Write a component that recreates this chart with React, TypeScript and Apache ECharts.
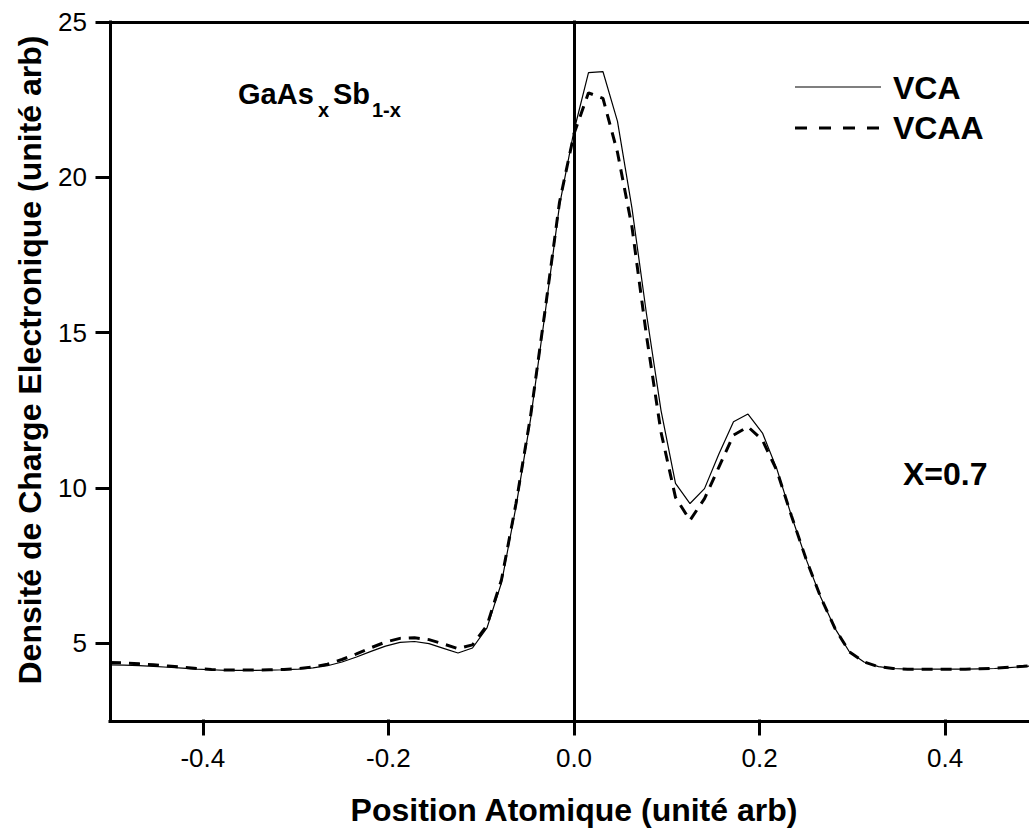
import React, { useEffect, useRef } from "react";
import * as echarts from "echarts";

const positions = [
  -0.5, -0.484375, -0.46875, -0.453125, -0.4375, -0.421875, -0.40625, -0.390625,
  -0.375, -0.359375, -0.34375, -0.328125, -0.3125, -0.296875, -0.28125, -0.265625,
  -0.25, -0.234375, -0.21875, -0.203125, -0.1875, -0.171875, -0.15625, -0.140625,
  -0.125, -0.109375, -0.09375, -0.078125, -0.0625, -0.046875, -0.03125, -0.015625,
  0, 0.015625, 0.03125, 0.046875, 0.0625, 0.078125, 0.09375, 0.109375,
  0.125, 0.140625, 0.15625, 0.171875, 0.1875, 0.203125, 0.21875, 0.234375,
  0.25, 0.265625, 0.28125, 0.296875, 0.3125, 0.328125, 0.34375, 0.359375,
  0.375, 0.390625, 0.40625, 0.421875, 0.4375, 0.453125, 0.46875, 0.484375, 0.5,
];

const vca = [
  4.31, 4.3, 4.28, 4.26, 4.23, 4.2, 4.17, 4.15,
  4.13, 4.13, 4.13, 4.14, 4.15, 4.17, 4.21, 4.28,
  4.4, 4.56, 4.74, 4.91, 5.03, 5.06, 4.99, 4.84,
  4.69, 4.85, 5.5, 6.95, 9.4, 12.2, 15.6, 19.1,
  21.5, 23.37, 23.4, 21.8, 19.0, 15.6, 12.5, 10.15,
  9.5, 9.98, 11.1, 12.13, 12.38, 11.77, 10.6, 9.1,
  7.72, 6.5, 5.48, 4.72, 4.4, 4.25, 4.19, 4.17,
  4.17, 4.17, 4.17, 4.17, 4.18, 4.19, 4.22, 4.25, 4.29,
];

const vcaa = [
  4.38, 4.37, 4.34, 4.31, 4.27, 4.23, 4.19, 4.16,
  4.14, 4.14, 4.14, 4.15, 4.16, 4.19, 4.24, 4.33,
  4.48, 4.66, 4.86, 5.04, 5.16, 5.18, 5.12, 4.98,
  4.83, 4.95, 5.58, 7.05, 9.5, 12.3, 15.7, 19.2,
  21.4, 22.72, 22.54, 20.8, 18.4, 14.9, 11.8, 9.7,
  8.96, 9.66, 10.68, 11.7, 11.97, 11.54, 10.55, 9.1,
  7.72, 6.5, 5.48, 4.72, 4.4, 4.25, 4.19, 4.17,
  4.17, 4.17, 4.17, 4.17, 4.18, 4.2, 4.23, 4.26, 4.31,
];

const xTicks = [-0.4, -0.2, 0.0, 0.2, 0.4];
const yTicks = [5, 10, 15, 20, 25];

// frame of the plot (data units)
const X_MIN = -0.5;
const X_MAX = 0.5;
const Y_MIN = 2.5;
const Y_MAX = 25;
// axis ranges extended by the tick length so that outward ticks sit inside the grid
const X_AXIS_MIN = -0.514;
const Y_AXIS_MIN = 2.082;

const FONT = "'Liberation Sans', Arial, sans-serif";

export default function App() {
  const ref = useRef<HTMLDivElement>(null);

  useEffect(() => {
    if (!ref.current) return;
    const chart = echarts.init(ref.current, null, { renderer: "svg" });
    const toPairs = (ys: number[]) => positions.map((x, i) => [x, ys[i]]);

    const seg = (a: number[], b: number[]) => [{ coord: a }, { coord: b }];
    const frameLines = [
      seg([X_MIN, Y_MIN], [X_MIN, Y_MAX]),
      seg([X_MIN, Y_MIN], [X_MAX, Y_MIN]),
      seg([X_MIN, Y_MAX], [X_MAX, Y_MAX]),
      seg([0, Y_MIN], [0, Y_MAX]),
      ...yTicks.map((v) => seg([X_AXIS_MIN, v], [X_MIN, v])),
      ...xTicks.map((v) => seg([v, Y_AXIS_MIN], [v, Y_MIN])),
    ];

    const textStyle = (text: string, size: number, align = "left") => ({
      text,
      fontSize: size,
      fontWeight: "bold",
      fontFamily: FONT,
      fill: "#000",
      align,
      verticalAlign: "middle",
    });

    chart.setOption({
      animation: false,
      backgroundColor: "#fff",
      grid: {
        left: 97,
        right: 0,
        top: 22,
        bottom: 96,
        show: false,
      },
      xAxis: {
        type: "value",
        min: X_AXIS_MIN,
        max: X_MAX,
        splitLine: { show: false },
        axisLine: { show: false, onZero: false },
        axisTick: { show: false },
        axisLabel: {
          customValues: xTicks,
          formatter: (v: number) => v.toFixed(1),
          color: "#000",
          fontSize: 26,
          fontFamily: FONT,
          margin: 11,
        },
      },
      yAxis: {
        type: "value",
        min: Y_AXIS_MIN,
        max: Y_MAX,
        splitLine: { show: false },
        axisLine: { show: false, onZero: false },
        axisTick: { show: false },
        axisLabel: {
          customValues: yTicks,
          formatter: (v: number) => String(v),
          color: "#000",
          fontSize: 26,
          fontFamily: FONT,
          margin: 10,
        },
      },
      series: [
        {
          name: "VCA",
          type: "line",
          data: toPairs(vca),
          showSymbol: false,
          symbol: "none",
          lineStyle: { color: "#000", width: 1.2, type: "solid" },
          markLine: {
            silent: true,
            symbol: "none",
            label: { show: false },
            lineStyle: { color: "#000", width: 3, type: "solid", cap: "square" },
            data: frameLines,
          },
        },
        {
          name: "VCAA",
          type: "line",
          data: toPairs(vcaa),
          showSymbol: false,
          symbol: "none",
          lineStyle: { color: "#000", width: 3, type: [11, 8] },
        },
      ],
      graphic: [
        {
          type: "text",
          x: 30,
          y: 360,
          rotation: Math.PI / 2,
          style: textStyle("Densité de Charge Electronique (unité arb)", 32, "center"),
        },
        {
          type: "text",
          x: 574,
          y: 810,
          style: textStyle("Position Atomique (unité arb)", 32, "center"),
        },
        { type: "text", x: 238, y: 94, style: textStyle("GaAs", 29) },
        { type: "text", x: 318, y: 110, style: textStyle("x", 20) },
        { type: "text", x: 333, y: 94, style: textStyle("Sb", 29) },
        { type: "text", x: 372, y: 110, style: textStyle("1-x", 20) },
        { type: "text", x: 903, y: 474, style: textStyle("X=0.7", 32) },
        {
          type: "line",
          shape: { x1: 795, y1: 87, x2: 881, y2: 87 },
          style: { stroke: "#000", lineWidth: 1.2 },
        },
        {
          type: "line",
          shape: { x1: 795, y1: 128, x2: 881, y2: 128 },
          style: { stroke: "#000", lineWidth: 3, lineDash: [12, 12] },
        },
        { type: "text", x: 893, y: 88, style: textStyle("VCA", 32) },
        { type: "text", x: 893, y: 128, style: textStyle("VCAA", 32) },
      ],
    });
    return () => chart.dispose();
  }, []);

  return (
    <div
      style={{ position: "absolute", left: 0, top: 0, width: 1029, height: 830, overflow: "hidden", background: "#fff" }}
    >
      <div ref={ref} style={{ width: 1038, height: 830 }} />
    </div>
  );
}
